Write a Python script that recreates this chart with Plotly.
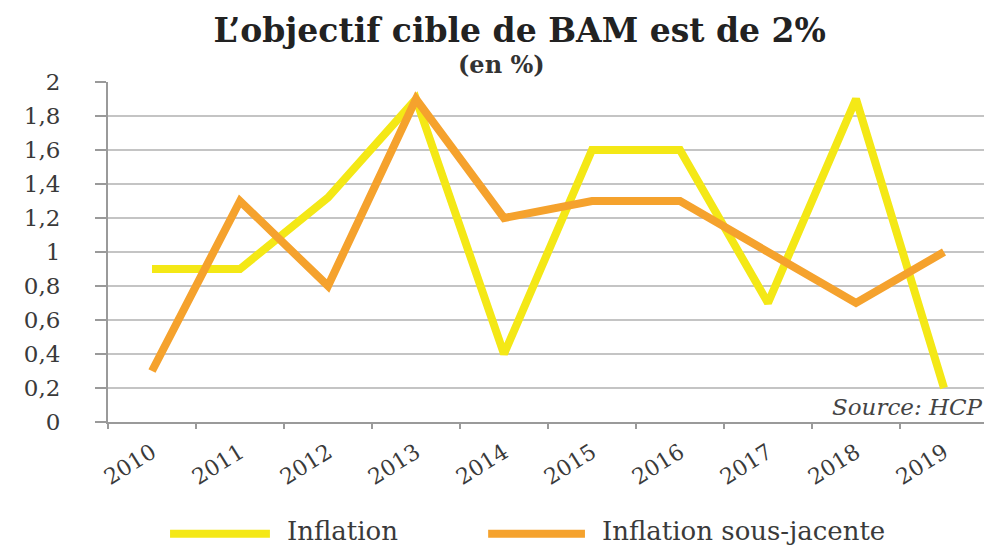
import plotly.graph_objects as go

years = ["2010", "2011", "2012", "2013", "2014", "2015", "2016", "2017", "2018", "2019"]
inflation = [0.9, 0.9, 1.32, 1.9, 0.4, 1.6, 1.6, 0.7, 1.9, 0.2]
inflation_sj = [0.3, 1.3, 0.8, 1.9, 1.2, 1.3, 1.3, 1.0, 0.7, 1.0]
y_ticks = [0, 0.2, 0.4, 0.6, 0.8, 1.0, 1.2, 1.4, 1.6, 1.8, 2.0]
y_labels = ["0", "0,2", "0,4", "0,6", "0,8", "1", "1,2", "1,4", "1,6", "1,8", "2"]

YELLOW = "#F4E816"
ORANGE = "#F5A22D"
FONT = "DejaVu Serif"
TXT = "#3a3a3a"

fig = go.Figure()
fig.add_trace(go.Scatter(x=years, y=inflation, mode="lines", name="Inflation",
                         line=dict(color=YELLOW, width=8), showlegend=False))
fig.add_trace(go.Scatter(x=years, y=inflation_sj, mode="lines", name="Inflation sous-jacente",
                         line=dict(color=ORANGE, width=8), showlegend=False))

fig.update_layout(
    width=984, height=537,
    margin=dict(l=100, r=4, t=74, b=123),
    paper_bgcolor="white", plot_bgcolor="white",
    font=dict(family=FONT, color=TXT),
    title=dict(text="<b>L’objectif cible de BAM est de 2%</b>", x=0.52, xanchor="center",
               y=0.958, yanchor="middle", font=dict(family=FONT, size=33, color="#222")),
)
fig.update_xaxes(type="category", tickson="boundaries", showgrid=False,
                 showline=True, linecolor="#9a9a9a", linewidth=2,
                 ticks="outside", ticklen=5, tickcolor="#9a9a9a", tickwidth=2,
                 tickangle=-32, tickfont=dict(family=FONT, size=22, color=TXT),
                 ticklabelstandoff=7, range=[-0.5, 9.5])
fig.update_yaxes(range=[0, 2], tickvals=y_ticks, ticktext=y_labels,
                 showgrid=True, gridcolor="#c4c4c4", gridwidth=1.5,
                 showline=True, linecolor="#9a9a9a", linewidth=2,
                 ticks="outside", ticklen=11, tickcolor="#9a9a9a", tickwidth=2,
                 tickfont=dict(family=FONT, size=23, color=TXT),
                 ticklabelstandoff=30, zeroline=False)

# subtitle and source
fig.add_annotation(text="<b>(en %)</b>", xref="paper", yref="paper", x=0.447, y=1.05,
                   xanchor="center", yanchor="middle", showarrow=False,
                   font=dict(family=FONT, size=24, color="#333"))
fig.add_annotation(text="<i>Source: HCP</i>", xref="paper", yref="paper", x=0.997, y=0.045,
                   xanchor="right", yanchor="middle", showarrow=False,
                   font=dict(family=FONT, size=23, color="#444"))

# legend drawn manually
legend_items = [("Inflation", YELLOW, 0.0705, 0.184, 0.201),
                ("Inflation sous-jacente", ORANGE, 0.432, 0.542, 0.559)]
for label, color, x0, x1, xt in legend_items:
    fig.add_shape(type="line", xref="paper", yref="paper", x0=x0, x1=x1, y0=-0.329, y1=-0.329,
                  line=dict(color=color, width=8))
    fig.add_annotation(text=label, xref="paper", yref="paper", x=xt, y=-0.322,
                       xanchor="left", yanchor="middle", showarrow=False,
                       font=dict(family=FONT, size=26, color=TXT))

fig.write_html("out.html")
